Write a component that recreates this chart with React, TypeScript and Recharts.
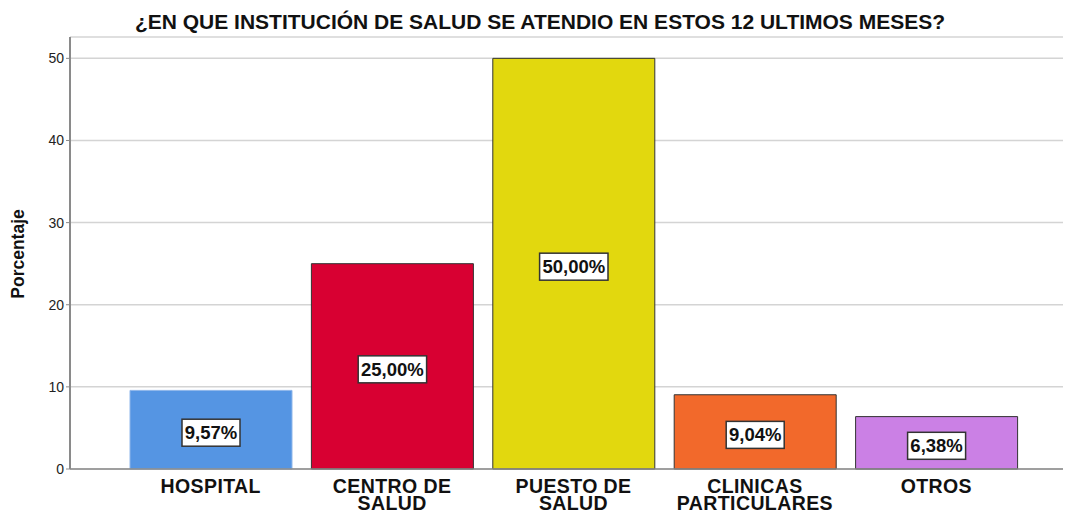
import { BarChart, Bar, XAxis, YAxis, CartesianGrid, Cell, LabelList } from 'recharts';

const categories = ['HOSPITAL', 'CENTRO DE SALUD', 'PUESTO DE SALUD', 'CLINICAS PARTICULARES', 'OTROS'];
const percentages = [9.57, 25.0, 50.0, 9.04, 6.38];
const barColors = ['#5595e3', '#d80032', '#e2d80e', '#f2692b', '#cb80e5'];
const barStrokes = ['#8fb6ea', '#333333', '#333333', '#333333', '#333333'];
const yTicks = [0, 10, 20, 30, 40, 50];

const data = categories.map((name, i) => ({ name, value: percentages[i] }));

const FONT = '"Liberation Sans", Arial, sans-serif';

const CategoryTick = (props: any) => {
  const { x, y, payload } = props;
  const words = String(payload.value).split(' ');
  const lines = words.length > 1 ? [words.slice(0, -1).join(' '), words[words.length - 1]] : words;
  return (
    <g>
      {lines.map((line, i) => (
        <text
          key={i}
          x={x}
          y={y + 16 + i * 17}
          textAnchor="middle"
          fontFamily={FONT}
          fontWeight="bold"
          fontSize={19.5}
          letterSpacing={0.4}
          fill="#111"
        >
          {line}
        </text>
      ))}
    </g>
  );
};

const ValueLabel = (props: any) => {
  const { x, y, width, height, value } = props;
  const cx = x + width / 2;
  const cy = y + height / 2 + 3;
  const text = value.toFixed(2).replace('.', ',') + '%';
  const w = text.length * 10.4 + 6;
  return (
    <g>
      <rect x={cx - w / 2} y={cy - 13.5} width={w} height={27} fill="#fff" stroke="#333" strokeWidth={1.5} />
      <text x={cx} y={cy + 6.5} textAnchor="middle" fontFamily={FONT} fontWeight="bold" fontSize={18.5} fill="#111">
        {text}
      </text>
    </g>
  );
};

const App = () => {
  return (
    <div style={{ position: 'absolute', left: 0, top: 0, width: 1065, height: 512, background: '#fff', overflow: 'hidden' }}>
      <div
        style={{
          position: 'absolute',
          left: 0,
          top: 9,
          width: 1080,
          textAlign: 'center',
          fontFamily: FONT,
          fontWeight: 'bold',
          fontSize: 21,
          lineHeight: '26px',
          color: '#111',
        }}
      >
        ¿EN QUE INSTITUCIÓN DE SALUD SE ATENDIO EN ESTOS 12 ULTIMOS MESES?
      </div>
      <svg style={{ position: 'absolute', left: 0, top: 0 }} width={40} height={512}>
        <text
          x={24}
          y={254}
          transform="rotate(-90 24 254)"
          textAnchor="middle"
          fontFamily={FONT}
          fontWeight="bold"
          fontSize={17.5}
          fill="#111"
        >
          Porcentaje
        </text>
      </svg>
      <div style={{ position: 'absolute', left: 0, top: 0 }}>
        <BarChart width={1065} height={512} data={data} margin={{ top: 37, right: 2, left: 0, bottom: 0 }}>
          <CartesianGrid vertical={false} stroke="#d4d4d4" strokeWidth={1.5} />
          <XAxis
            dataKey="name"
            height={43}
            interval={0}
            tick={<CategoryTick />}
            tickLine={false}
            axisLine={{ stroke: '#8a8a8a', strokeWidth: 1.5 }}
            padding={{ left: 50, right: 36 }}
          />
          <YAxis
            width={70}
            domain={[0, 52.6]}
            ticks={yTicks}
            tick={{ fill: '#222', fontSize: 14, fontFamily: FONT }}
            tickLine={{ stroke: '#8a8a8a' }}
            tickSize={4}
            axisLine={{ stroke: '#8a8a8a', strokeWidth: 2 }}
          />
          <Bar dataKey="value" barSize={162} isAnimationActive={false}>
            {data.map((d, i) => (
              <Cell key={d.name} fill={barColors[i]} stroke={barStrokes[i]} strokeWidth={1} />
            ))}
            <LabelList dataKey="value" content={<ValueLabel />} />
          </Bar>
        </BarChart>
      </div>
    </div>
  );
};

export default App;
